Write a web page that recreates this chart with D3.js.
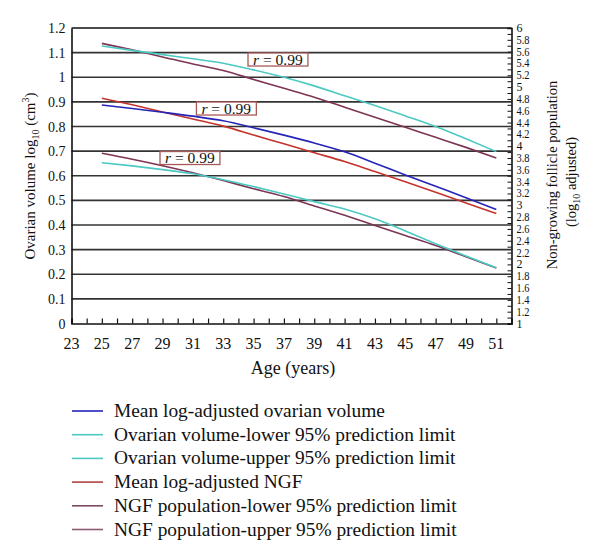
<!DOCTYPE html>
<html><head><meta charset="utf-8">
<script src="https://cdn.jsdelivr.net/npm/d3@7/dist/d3.min.js"></script>
<style>body{margin:0;background:#fff}svg{display:block}text{font-family:"Liberation Serif","DejaVu Serif",serif;fill:#111}</style>
</head><body><svg id="chart" width="600" height="560"></svg>
<script>
// ---- data ----
const ages = [25,27,29,31,33,35,37,39,41,43,45,47,49,51];
// left axis (ovarian volume, log10 cm3)
const meanVolume   = [0.887,0.873,0.858,0.842,0.823,0.795,0.765,0.733,0.697,0.651,0.603,0.557,0.511,0.463];
const volumeLower  = [0.653,0.640,0.625,0.608,0.584,0.556,0.526,0.495,0.465,0.425,0.376,0.324,0.274,0.226];
const volumeUpper  = [1.127,1.109,1.092,1.075,1.057,1.030,1.000,0.965,0.925,0.885,0.843,0.800,0.750,0.698];
// right axis (NGF population, log10 adjusted)
const meanNGF      = [4.81,4.70,4.58,4.46,4.34,4.19,4.04,3.89,3.74,3.57,3.40,3.22,3.04,2.86];
const ngfLower     = [3.88,3.78,3.67,3.55,3.42,3.28,3.15,2.99,2.83,2.66,2.49,2.32,2.13,1.94];
const ngfUpper     = [5.74,5.63,5.51,5.39,5.28,5.13,4.98,4.83,4.66,4.49,4.32,4.15,3.98,3.80];
const xTickLabels  = [23,25,27,29,31,33,35,37,39,41,43,45,47,49,51];
const yLeftTicks   = [0,0.1,0.2,0.3,0.4,0.5,0.6,0.7,0.8,0.9,1,1.1,1.2];
const yRightTicks  = [1,1.2,1.4,1.6,1.8,2,2.2,2.4,2.6,2.8,3,3.2,3.4,3.6,3.8,4,4.2,4.4,4.6,4.8,5,5.2,5.4,5.6,5.8,6];
const seriesNames  = ["Mean log-adjusted ovarian volume","Ovarian volume-lower 95% prediction limit","Ovarian volume-upper 95% prediction limit","Mean log-adjusted NGF","NGF population-lower 95% prediction limit","NGF population-upper 95% prediction limit"];
const seriesColors = ["#2424b8","#4cc9c3","#4cc9c3","#c4342c","#7e3454","#7e3454"];
const legendColors = ["#2424b8","#4cc9c3","#4cc9c3","#b04440","#7e4a62","#8a5a70"];
const rLabels      = [{age:36.6,value:1.072,text:"0.99"},{age:33.2,value:0.873,text:"0.99"},{age:30.8,value:0.672,text:"0.99"}];

// ---- scales ----
const svg = d3.select("#chart");
const L = 71.5, R = 511.5, T = 28, B = 323.5;
const x = d3.scaleLinear().domain([23,52]).range([L,R]);
const yL = d3.scaleLinear().domain([0,1.2]).range([B,T]);
const yR = d3.scaleLinear().domain([1,6]).range([B,T]);

// gridlines
svg.append("g").selectAll("line").data(yLeftTicks.filter(d=>d>0&&d<1.2)).join("line")
  .attr("x1",L).attr("x2",R).attr("y1",d=>yL(d)).attr("y2",d=>yL(d))
  .attr("stroke","#333").attr("stroke-width",1.6);

// frame
svg.append("line").attr("x1",L).attr("x2",R).attr("y1",T).attr("y2",T).attr("stroke","#111").attr("stroke-width",1.6);

// bottom axis
const xAxis = svg.append("g").attr("transform",`translate(0,${B})`)
  .call(d3.axisBottom(x).tickValues(d3.range(23,52)).tickSize(-5).tickFormat(""));
xAxis.select(".domain").attr("stroke","#111").attr("stroke-width",1.6);
xAxis.selectAll(".tick line").attr("stroke","#111").attr("stroke-width",1.2);
svg.append("g").selectAll("text").data(xTickLabels).join("text")
  .attr("x",d=>x(d)).attr("y",B+25).attr("text-anchor","middle").attr("font-size",16).text(d=>d);

// left axis
const yAxisL = svg.append("g").attr("transform",`translate(${L},0)`)
  .call(d3.axisLeft(yL).tickValues(yLeftTicks).tickSize(0).tickFormat(""));
yAxisL.select(".domain").attr("stroke","#111").attr("stroke-width",1.6);
svg.append("g").selectAll("text").data(yLeftTicks).join("text")
  .attr("x",L-6).attr("y",d=>yL(d)+5).attr("text-anchor","end").attr("font-size",14).text(d=>d3.format("~g")(d));

// right axis
const yAxisR = svg.append("g").attr("transform",`translate(${R},0)`)
  .call(d3.axisRight(yR).tickValues(d3.range(10,61).map(d=>d/10)).tickSize(-4).tickFormat(""));
yAxisR.select(".domain").attr("stroke","#111").attr("stroke-width",1.6);
yAxisR.selectAll(".tick line").attr("stroke","#111").attr("stroke-width",1);
svg.append("g").selectAll("text").data(yRightTicks).join("text")
  .attr("x",R+5).attr("y",d=>yR(d)+4).attr("text-anchor","start").attr("font-size",11.5)
  .attr("textLength",d=>String(d3.format("~g")(d)).length>1?13:6).attr("lengthAdjust","spacingAndGlyphs")
  .text(d=>d3.format("~g")(d));

// axis titles
svg.append("text").attr("x",293).attr("y",374).attr("text-anchor","middle").attr("font-size",18).text("Age (years)");
const lt = svg.append("text").attr("transform","translate(35,176) rotate(-90)").attr("text-anchor","middle").attr("font-size",15);
lt.append("tspan").text("Ovarian volume log");
lt.append("tspan").attr("font-size",10).attr("dy",4).text("10");
lt.append("tspan").attr("dy",-4).text(" (cm");
lt.append("tspan").attr("font-size",10).attr("dy",-6).text("3");
lt.append("tspan").attr("dy",6).text(")");
svg.append("text").attr("transform","translate(557,175) rotate(-90)").attr("text-anchor","middle").attr("font-size",14.5).text("Non-growing follicle population");
const rt = svg.append("text").attr("transform","translate(576,182) rotate(-90)").attr("text-anchor","middle").attr("font-size",14.5);
rt.append("tspan").text("(log");
rt.append("tspan").attr("font-size",10).attr("dy",4).text("10");
rt.append("tspan").attr("dy",-4).text(" adjusted)");

// lines
const series = [
  {vals:meanVolume, y:yL},{vals:volumeLower,y:yL},{vals:volumeUpper,y:yL},
  {vals:meanNGF,y:yR},{vals:ngfLower,y:yR},{vals:ngfUpper,y:yR}
];
const drawOrder = [5,4,2,1,3,0];
drawOrder.forEach(i=>{
  const s = series[i];
  const line = d3.line().x((d,j)=>x(ages[j])).y(d=>s.y(d)).curve(d3.curveMonotoneX);
  svg.append("path").datum(s.vals).attr("d",line).attr("fill","none")
    .attr("stroke",seriesColors[i]).attr("stroke-width",1.6);
});

// r labels
rLabels.forEach(r=>{
  const g = svg.append("g");
  const t = g.append("text").attr("x",x(r.age)).attr("y",yL(r.value)+5).attr("text-anchor","middle").attr("font-size",15.5);
  t.append("tspan").attr("font-style","italic").text("r");
  t.append("tspan").text(" = "+r.text);
  const bb = t.node().getBBox();
  g.insert("rect","text").attr("x",bb.x-5).attr("y",yL(r.value)-6.5).attr("width",bb.width+10).attr("height",13)
    .attr("fill","#fff").attr("stroke","#a85a58").attr("stroke-width",1.3);
});

// legend
const lg = svg.append("g");
seriesNames.forEach((n,i)=>{
  const yy = 411 + i*23.7;
  lg.append("line").attr("x1",72).attr("x2",103).attr("y1",yy).attr("y2",yy).attr("stroke",legendColors[i]).attr("stroke-width",1.6);
  lg.append("text").attr("x",114).attr("y",yy+6).attr("font-size",19.4).text(n);
});
</script></body></html>
